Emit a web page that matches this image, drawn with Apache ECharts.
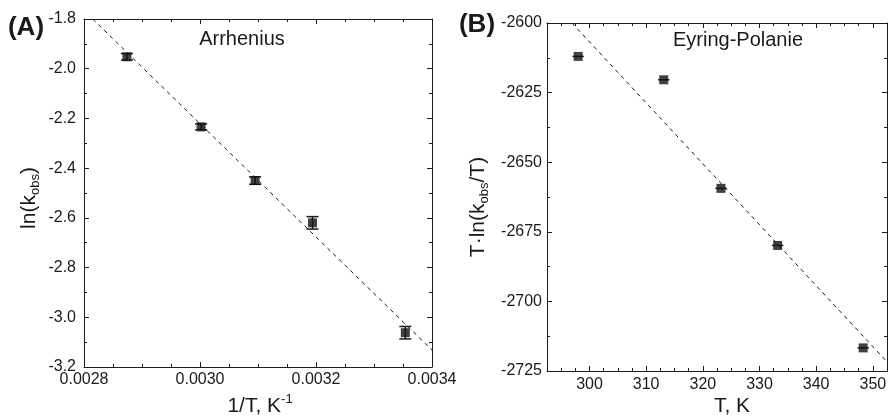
<!DOCTYPE html>
<html>
<head>
<meta charset="utf-8">
<title>Arrhenius / Eyring-Polanie</title>
<script src="https://cdn.jsdelivr.net/npm/echarts@6/dist/echarts.min.js"></script>
<style>
  html, body { margin: 0; padding: 0; background: #fff; }
  #main { width: 890px; height: 418px; }
</style>
</head>
<body>
<div id="main"></div>
<script>
// panel A: ln(kobs) vs 1/T
const invT = [0.002874, 0.003002, 0.003095, 0.003194, 0.003354];
const lnK = [-1.952, -2.234, -2.450, -2.620, -3.062];
const lnKErr = [0.013, 0.012, 0.015, 0.025, 0.025];
const fitA = [[0.002815, -1.8], [0.0034, -3.132]];

// panel B: T*ln(kobs/T) vs T
const temps = [298.0, 313.1, 323.2, 333.2, 348.3];
const tlnK = [-2612.0, -2620.4, -2659.4, -2679.9, -2716.7];
const tempErr = [1.0, 1.0, 1.0, 1.0, 1.0];
const fitB = [[296.9, -2600], [352.5, -2721.7]];

const majorTicksB = [300, 310, 320, 330, 340, 350];

const font = 'Liberation Sans, Arial, sans-serif';
const ink = '#1a1a1a';

let myChart = echarts.init(document.getElementById('main'));

function zip(xs, ys, es) {
  return xs.map((x, i) => [x, ys[i], es[i]]);
}

// vertical error bars with caps
function yErrBar(params, api) {
  let x = api.value(0), y = api.value(1), e = api.value(2);
  let lo = api.coord([x, y - e]);
  let hi = api.coord([x, y + e]);
  let st = {stroke: ink, lineWidth: 1.5};
  return {
    type: 'group',
    children: [
      {type: 'line', shape: {x1: lo[0], y1: lo[1], x2: hi[0], y2: hi[1]}, style: st},
      {type: 'line', shape: {x1: lo[0] - 6, y1: lo[1], x2: lo[0] + 6, y2: lo[1]}, style: st},
      {type: 'line', shape: {x1: hi[0] - 6, y1: hi[1], x2: hi[0] + 6, y2: hi[1]}, style: st}
    ]
  };
}

// horizontal error bars, no caps
function xErrBar(params, api) {
  let x = api.value(0), y = api.value(1), e = api.value(2);
  let lo = api.coord([x - e, y]);
  let hi = api.coord([x + e, y]);
  return {
    type: 'line',
    shape: {x1: lo[0], y1: lo[1], x2: hi[0], y2: hi[1]},
    style: {stroke: ink, lineWidth: 1.5}
  };
}

const axisLine = {show: true, onZero: false, lineStyle: {color: ink, width: 1}};
const tickMajor = {show: true, inside: true, length: 5, lineStyle: {color: ink}};
const tickMinor = {show: true, inside: true, length: 3, lineStyle: {color: ink}};
const labelStyle = {color: ink, fontSize: 16, fontFamily: font};

let option = {
  animation: false,
  grid: [
    {left: 84, top: 19, width: 348, height: 348},
    {left: 547, top: 23, width: 345, height: 348}
  ],
  xAxis: [
    {
      gridIndex: 0, type: 'value', position: 'bottom',
      min: 0.0028, max: 0.0034, interval: 0.0002,
      axisLine: axisLine, axisTick: tickMajor,
      minorTick: {show: true, splitNumber: 4, length: 3, lineStyle: {color: ink}},
      axisLabel: Object.assign({margin: 5, formatter: v => v.toFixed(4)}, labelStyle),
      splitLine: {show: false}
    },
    {
      gridIndex: 0, type: 'value', position: 'top',
      min: 0.0028, max: 0.0034, interval: 0.0002,
      axisLine: axisLine, axisTick: tickMajor,
      minorTick: {show: true, splitNumber: 4, length: 3, lineStyle: {color: ink}},
      axisLabel: {show: false}, splitLine: {show: false}
    },
    {
      gridIndex: 1, type: 'value', position: 'bottom',
      min: 292.5, max: 352.5, interval: 2.5,
      axisLine: axisLine, axisTick: tickMinor,
      axisLabel: Object.assign({margin: 6, formatter: v => (Math.abs(v % 10) < 1e-6 ? String(v) : '')}, labelStyle),
      splitLine: {show: false}
    },
    {
      gridIndex: 1, type: 'value', position: 'bottom',
      min: 292.5, max: 352.5,
      axisLine: {show: false},
      axisTick: Object.assign({customValues: majorTicksB}, tickMajor),
      axisLabel: {show: false}, splitLine: {show: false}
    },
    {
      gridIndex: 1, type: 'value', position: 'top',
      min: 292.5, max: 352.5, interval: 2.5,
      axisLine: axisLine, axisTick: tickMinor,
      axisLabel: {show: false}, splitLine: {show: false}
    },
    {
      gridIndex: 1, type: 'value', position: 'top',
      min: 292.5, max: 352.5,
      axisLine: {show: false},
      axisTick: Object.assign({customValues: majorTicksB}, tickMajor),
      axisLabel: {show: false}, splitLine: {show: false}
    }
  ],
  yAxis: [
    {
      gridIndex: 0, type: 'value', position: 'left',
      min: -3.2, max: -1.8, interval: 0.2,
      axisLine: axisLine, axisTick: tickMajor,
      minorTick: {show: true, splitNumber: 2, length: 3, lineStyle: {color: ink}},
      axisLabel: Object.assign({margin: 8, formatter: v => v.toFixed(1)}, labelStyle),
      splitLine: {show: false}
    },
    {
      gridIndex: 0, type: 'value', position: 'right',
      min: -3.2, max: -1.8, interval: 0.2,
      axisLine: axisLine, axisTick: tickMajor,
      minorTick: {show: true, splitNumber: 2, length: 3, lineStyle: {color: ink}},
      axisLabel: {show: false}, splitLine: {show: false}
    },
    {
      gridIndex: 1, type: 'value', position: 'left',
      min: -2725, max: -2600, interval: 25,
      axisLine: axisLine, axisTick: tickMajor,
      minorTick: {show: true, splitNumber: 2, length: 3, lineStyle: {color: ink}},
      axisLabel: Object.assign({margin: 5, formatter: v => String(v)}, labelStyle),
      splitLine: {show: false}
    },
    {
      gridIndex: 1, type: 'value', position: 'right',
      min: -2725, max: -2600, interval: 25,
      axisLine: axisLine, axisTick: tickMajor,
      minorTick: {show: true, splitNumber: 2, length: 3, lineStyle: {color: ink}},
      axisLabel: {show: false}, splitLine: {show: false}
    }
  ],
  series: [
    {
      type: 'line', xAxisIndex: 0, yAxisIndex: 0, data: fitA,
      symbol: 'none', lineStyle: {color: ink, width: 1, type: [4, 4]}, z: 1
    },
    {
      type: 'custom', xAxisIndex: 0, yAxisIndex: 0,
      data: zip(invT, lnK, lnKErr), renderItem: yErrBar, z: 2
    },
    {
      type: 'scatter', xAxisIndex: 0, yAxisIndex: 0,
      data: invT.map((x, i) => [x, lnK[i]]),
      symbol: 'rect', symbolSize: 9, itemStyle: {color: '#111'}, z: 3
    },
    {
      type: 'line', xAxisIndex: 2, yAxisIndex: 2, data: fitB,
      symbol: 'none', lineStyle: {color: ink, width: 1, type: [4, 4]}, z: 1
    },
    {
      type: 'custom', xAxisIndex: 2, yAxisIndex: 2,
      data: zip(temps, tlnK, tempErr), renderItem: xErrBar, z: 2
    },
    {
      type: 'scatter', xAxisIndex: 2, yAxisIndex: 2,
      data: temps.map((x, i) => [x, tlnK[i]]),
      symbol: 'rect', symbolSize: 9, itemStyle: {color: '#111'}, z: 3
    }
  ],
  graphic: [
    {type: 'text', x: 26, y: 28, style: {text: '(A)', font: 'bold 26px ' + font, fill: ink, align: 'center', verticalAlign: 'middle'}},
    {type: 'text', x: 477, y: 25, style: {text: '(B)', font: 'bold 26px ' + font, fill: ink, align: 'center', verticalAlign: 'middle'}},
    {type: 'text', x: 242, y: 39, style: {text: 'Arrhenius', font: '20px ' + font, fill: ink, align: 'center', verticalAlign: 'middle'}},
    {type: 'text', x: 738, y: 40, style: {text: 'Eyring-Polanie', font: '20px ' + font, fill: ink, align: 'center', verticalAlign: 'middle'}},
    {
      type: 'text', x: 29, y: 198, rotation: Math.PI / 2,
      style: {
        text: 'ln(k{sub|obs})', fill: ink, align: 'center', verticalAlign: 'middle',
        fontSize: 21, fontFamily: font, lineHeight: 26,
        rich: {sub: {fontSize: 13, fontFamily: font, lineHeight: 13, verticalAlign: 'bottom', fill: ink}}
      }
    },
    {
      type: 'text', x: 260, y: 406,
      style: {
        text: '1/T, K{sup|-1}', fill: ink, align: 'center', verticalAlign: 'middle',
        fontSize: 21, fontFamily: font, lineHeight: 26,
        rich: {sup: {fontSize: 13, fontFamily: font, lineHeight: 13, verticalAlign: 'top', fill: ink}}
      }
    },
    {
      type: 'text', x: 478, y: 207, rotation: Math.PI / 2,
      style: {
        text: 'T·ln(k{sub|obs}/T)', fill: ink, align: 'center', verticalAlign: 'middle',
        fontSize: 21, fontFamily: font, lineHeight: 26,
        rich: {sub: {fontSize: 13, fontFamily: font, lineHeight: 13, verticalAlign: 'bottom', fill: ink}}
      }
    },
    {
      type: 'text', x: 732, y: 406,
      style: {text: 'T, K', font: '21px ' + font, fill: ink, align: 'center', verticalAlign: 'middle'}
    }
  ]
};

myChart.setOption(option);
</script>
</body>
</html>
